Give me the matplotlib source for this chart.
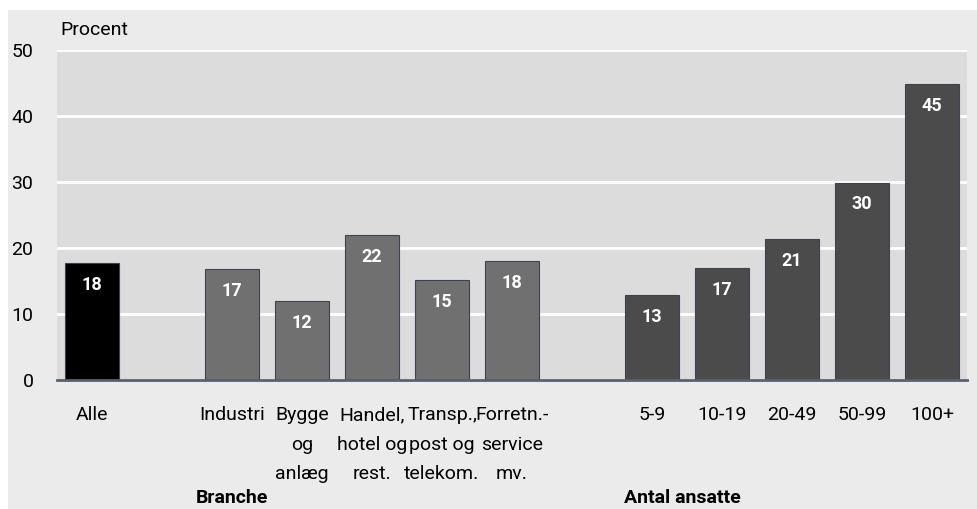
import numpy as np
import matplotlib
import matplotlib.pyplot as plt
from matplotlib import font_manager
from matplotlib.patches import Rectangle

matplotlib.use('Agg')

names = {f.name for f in font_manager.fontManager.ttflist}
if 'Liberation Sans Narrow' in names:
    plt.rcParams['font.family'] = ['Liberation Sans Narrow', 'DejaVu Sans']
    fs, fs_val = 14.5, 13
else:
    plt.rcParams['font.family'] = ['Roboto', 'DejaVu Sans']
    fs, fs_val = 14, 13

# data
total_label = ['Alle']
total_value = [17.7]
branche_labels = ['Industri', 'Bygge\nog\nanlæg', 'Handel,\nhotel og\nrest.',
                  'Transp.,\npost og\ntelekom.', 'Forretn.-\nservice\nmv.']
branche_values = [16.8, 12.0, 21.9, 15.1, 18.0]
size_labels = ['5-9', '10-19', '20-49', '50-99', '100+']
size_values = [12.9, 16.9, 21.4, 29.9, 44.8]

groups = [
    (total_label, total_value, '#000000', None),
    (branche_labels, branche_values, '#707070', 'Branche'),
    (size_labels, size_values, '#4b4b4b', 'Antal ansatte'),
]

fig = plt.figure(figsize=(9.78, 5.09), dpi=100)
fig.patch.set_facecolor('white')
W, H = 978, 509
fig.patches.append(Rectangle((8 / W, 0), 1 - 8 / W, 1 - 10 / H,
                             transform=fig.transFigure, facecolor='#ebebeb',
                             edgecolor='none', zorder=-10))
ax = fig.add_axes([57 / W, 1 - 380 / H, (967 - 57) / W, 330 / H])
ax.set_facecolor('#dcdcdc')

pos = 0
ticks, ticklabels = [], []
for labels, values, color, title in groups:
    xs = np.arange(pos, pos + len(values))
    ax.bar(xs, values, width=0.77, color=color, edgecolor='#3c4454',
           linewidth=0.8, zorder=3)
    for x, v in zip(xs, values):
        ax.text(x, v - 3.3, f'{v:.0f}', ha='center', va='center', color='white',
                fontsize=fs_val, fontweight='bold', zorder=4)
    ticks += list(xs)
    ticklabels += labels
    if title is not None:
        tx = xs[0] if title == 'Branche' else xs[0] + 0.43
        ax.text(tx, -17.9, title, ha='center', va='center', fontsize=fs,
                fontweight='bold', clip_on=False)
    pos += len(values) + 1

ax.set_xlim(-0.5, pos - 1.5)
ax.set_ylim(0, 50)
ax.set_yticks(range(0, 51, 10))
ax.set_xticks(ticks)
ax.set_xticklabels(ticklabels, fontsize=fs, linespacing=1.82, va='top')
ax.tick_params(axis='x', length=0, pad=19)
ax.tick_params(axis='y', length=0, pad=17, labelsize=fs)
ax.yaxis.grid(True, color='white', linewidth=2)
ax.set_axisbelow(True)
for s in ['top', 'right', 'left']:
    ax.spines[s].set_visible(False)
ax.spines['bottom'].set_color('#5a6070')
ax.spines['bottom'].set_linewidth(2)
ax.spines['bottom'].set_zorder(5)

fig.text(60 / W, 1 - 30 / H, 'Procent', fontsize=fs, ha='left', va='center')

fig.savefig('out.png', dpi=100)
